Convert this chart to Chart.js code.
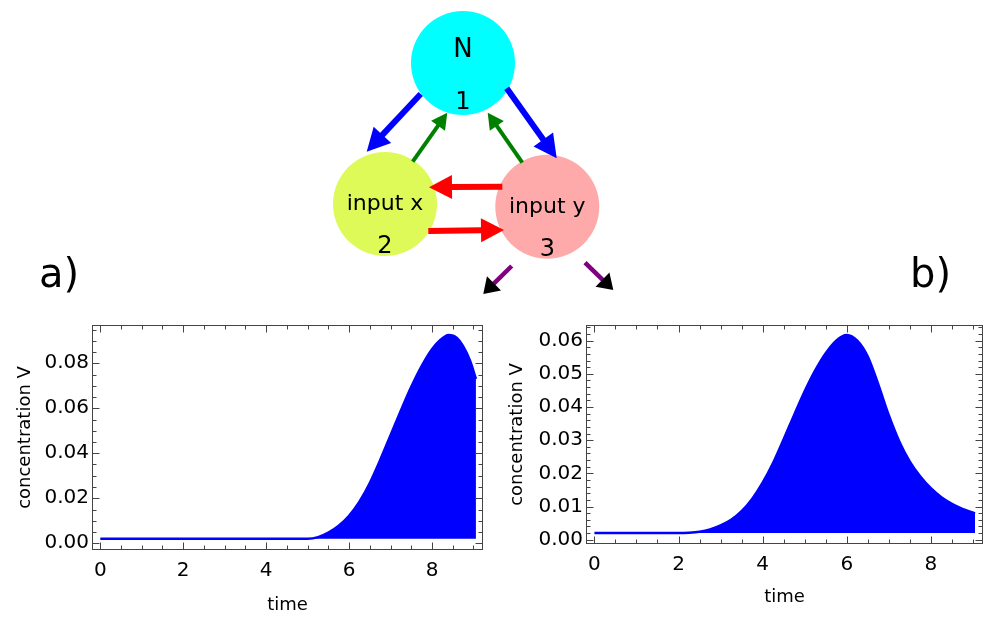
<!DOCTYPE html>
<html>
<head>
<meta charset="utf-8">
<title>Network and concentration V</title>
<script src="https://cdn.jsdelivr.net/npm/chart.js@4.4.0/dist/chart.umd.min.js"></script>
<style>
  html, body { margin: 0; padding: 0; background: #fff; }
  body { width: 986px; height: 617px; position: relative; overflow: hidden; font-family: "DejaVu Sans", sans-serif; }
  .box { position: absolute; }
  .box canvas { display: block; }
  .tag { position: absolute; font-size: 40px; line-height: 40px; color: #000; }
</style>
</head>
<body>
<div class="box" style="left:0;top:0;width:986px;height:310px"><canvas id="net" width="986" height="310"></canvas></div>
<div class="tag" style="left:39px;top:253px">a)</div>
<div class="tag" style="left:910px;top:253px">b)</div>
<div class="box" style="left:0;top:310px;width:500px;height:307px"><canvas id="chartA" width="500" height="307"></canvas></div>
<div class="box" style="left:490px;top:310px;width:496px;height:307px"><canvas id="chartB" width="496" height="307"></canvas></div>

<script>
// ---- data ----
// shared time ticks
const timeTicks = [0, 2, 4, 6, 8];

// panel a)
const timeA = [0, 1, 2, 3, 4, 4.5, 5, 5.25, 5.5, 5.75, 6, 6.25, 6.5, 6.75, 7, 7.25, 7.5, 7.75, 8, 8.2, 8.4, 8.6, 8.75, 8.92, 9.06];
const concA = [0.002, 0.002, 0.002, 0.002, 0.002, 0.002, 0.002, 0.0027, 0.0047, 0.0078, 0.0122, 0.0185, 0.0268, 0.037, 0.048, 0.059, 0.0695, 0.0787, 0.0862, 0.0903, 0.0925, 0.0912, 0.0876, 0.081, 0.073];
const baseA = 0.002;
const concTicksA = [0, 0.02, 0.04, 0.06, 0.08];

// panel b)
const timeB = [0, 1, 2, 2.25, 2.5, 2.75, 3, 3.25, 3.5, 3.75, 4, 4.25, 4.5, 4.75, 5, 5.25, 5.5, 5.75, 6, 6.25, 6.5, 6.75, 7, 7.25, 7.5, 7.75, 8, 8.25, 8.5, 8.75, 9.05];
const concB = [0.002, 0.002, 0.002, 0.0021, 0.0024, 0.0031, 0.0043, 0.006, 0.0086, 0.0123, 0.0172, 0.0232, 0.0303, 0.0376, 0.0447, 0.051, 0.0562, 0.06, 0.0617, 0.06, 0.0552, 0.0468, 0.0375, 0.0296, 0.0235, 0.019, 0.0155, 0.0128, 0.0108, 0.0093, 0.0079];
const baseB = 0.002;
const concTicksB = [0, 0.01, 0.02, 0.03, 0.04, 0.05, 0.06];

// network nodes (layout units)
const nodeNames = ['N', 'input x', 'input y'];
const nodeNums = ['1', '2', '3'];
const nodeX = [0, -0.78, 0.843];
const nodeY = [0, -1.41, -1.437];

// network arrows: tail -> tip (layout units)
const arrowKind = ['act', 'act', 'fb', 'fb', 'link', 'link', 'out', 'out'];
const arrowTailX = [-0.423, 0.437, -0.503, 0.593, 0.393, -0.347, 0.487, 1.22];
const arrowTailY = [-0.31, -0.253, -0.987, -0.997, -1.237, -1.68, -2.03, -1.997];
const arrowTipX = [-0.963, 0.937, -0.157, 0.247, -0.34, 0.41, 0.203, 1.503];
const arrowTipY = [-0.887, -0.953, -0.497, -0.497, -1.243, -1.67, -2.31, -2.27];

// ---- styles ----
const FONT = 'DejaVu Sans';
const nodeColors = ['#00FFFF', '#DDFA58', '#FFAAAA'];
const nodeNameSize = [26, 22, 22];
const nodeNameDy = [-6, 6, 6];
const nodeNumDy = [46, 49, 49];
const arrowStyle = {
    act:  { color: '#0000FF', head: '#0000FF', width: 6, len: 23, half: 12 },
    fb:   { color: '#008000', head: '#008000', width: 4, len: 16, half: 8.5 },
    link: { color: '#FF0000', head: '#FF0000', width: 6, len: 23, half: 12 },
    out:  { color: '#800080', head: '#000000', width: 4.5, len: 15, half: 10 }
};

function drawArrow(ctx, x0, y0, x1, y1, s) {
    const dx = x1 - x0, dy = y1 - y0;
    const d = Math.hypot(dx, dy);
    const ux = dx / d, uy = dy / d;
    const bx = x1 - ux * s.len, by = y1 - uy * s.len;
    ctx.strokeStyle = s.color;
    ctx.lineWidth = s.width;
    ctx.lineCap = 'butt';
    ctx.beginPath();
    ctx.moveTo(x0, y0);
    ctx.lineTo(bx + ux, by + uy);
    ctx.stroke();
    ctx.fillStyle = s.head;
    ctx.beginPath();
    ctx.moveTo(x1, y1);
    ctx.lineTo(bx - uy * s.half, by + ux * s.half);
    ctx.lineTo(bx + uy * s.half, by - ux * s.half);
    ctx.closePath();
    ctx.fill();
}

const netPlugin = {
    id: 'net',
    afterDatasetsDraw(chart) {
        const { ctx, scales: { x, y } } = chart;
        ctx.save();
        arrowKind.forEach((k, i) => {
            drawArrow(ctx,
                x.getPixelForValue(arrowTailX[i]), y.getPixelForValue(arrowTailY[i]),
                x.getPixelForValue(arrowTipX[i]), y.getPixelForValue(arrowTipY[i]),
                arrowStyle[k]);
        });
        ctx.fillStyle = '#000';
        ctx.textAlign = 'center';
        ctx.textBaseline = 'alphabetic';
        nodeNames.forEach((name, i) => {
            const cx = x.getPixelForValue(nodeX[i]);
            const cy = y.getPixelForValue(nodeY[i]);
            ctx.font = nodeNameSize[i] + 'px "' + FONT + '"';
            ctx.fillText(name, cx, cy + nodeNameDy[i]);
            ctx.font = '24px "' + FONT + '"';
            ctx.fillText(nodeNums[i], cx, cy + nodeNumDy[i]);
        });
        ctx.restore();
    }
};

new Chart(document.getElementById('net'), {
    type: 'scatter',
    data: {
        datasets: [{
            data: nodeX.map((v, i) => ({ x: v, y: nodeY[i] })),
            pointRadius: 52,
            pointHoverRadius: 52,
            backgroundColor: nodeColors,
            borderWidth: 0,
            clip: false
        }]
    },
    options: {
        responsive: false,
        animation: false,
        events: [],
        layout: { padding: 0, autoPadding: false },
        plugins: { legend: { display: false }, tooltip: { enabled: false } },
        scales: {
            x: { type: 'linear', display: false, min: -4.63, max: 5.23 },
            y: { type: 'linear', display: false, min: -2.47, max: 0.63 }
        }
    },
    plugins: [netPlugin]
});

// frame with inward major/minor ticks on all four sides
const framePlugin = {
    id: 'frame',
    afterDraw(chart, args, opts) {
        const { ctx, chartArea: a, scales: { x, y } } = chart;
        const L = Math.round(a.left) + 0.5, R = Math.round(a.right) - 0.5;
        const T = Math.round(a.top) + 0.5, B = Math.round(a.bottom) - 0.5;
        ctx.save();
        ctx.strokeStyle = '#444';
        ctx.lineWidth = 1;
        ctx.strokeRect(L, T, R - L, B - T);
        ctx.beginPath();
        const isMajor = (v, step) => Math.abs(v / step - Math.round(v / step)) < 1e-6;
        for (let k = Math.ceil(x.min / opts.minorX); k * opts.minorX <= x.max + 1e-9; k++) {
            const v = k * opts.minorX;
            const len = isMajor(v, opts.majorX) ? 7 : 4;
            const px = Math.round(x.getPixelForValue(v)) + 0.5;
            ctx.moveTo(px, B); ctx.lineTo(px, B - len);
            ctx.moveTo(px, T); ctx.lineTo(px, T + len);
        }
        for (let k = Math.ceil(y.min / opts.minorY - 1e-6); k * opts.minorY <= y.max + 1e-9; k++) {
            const v = k * opts.minorY;
            const len = isMajor(v, opts.majorY) ? 7 : 4;
            const py = Math.round(y.getPixelForValue(v)) + 0.5;
            ctx.moveTo(L, py); ctx.lineTo(L + len, py);
            ctx.moveTo(R, py); ctx.lineTo(R - len, py);
        }
        ctx.stroke();
        ctx.restore();
    }
};

function makePanel(id, time, conc, base, yTicks, cfg) {
    return new Chart(document.getElementById(id), {
        type: 'line',
        data: {
            datasets: [{
                data: time.map((t, i) => ({ x: t, y: conc[i] })),
                borderColor: '#0000FF',
                backgroundColor: '#0000FF',
                borderWidth: 2.5,
                pointRadius: 0,
                cubicInterpolationMode: 'monotone',
                fill: { value: base }
            }]
        },
        options: {
            responsive: false,
            animation: false,
            events: [],
            layout: { padding: cfg.padding, autoPadding: false },
            plugins: {
                legend: { display: false },
                tooltip: { enabled: false },
                frame: cfg.frame
            },
            scales: {
                x: {
                    type: 'linear',
                    min: cfg.xMin, max: cfg.xMax,
                    afterBuildTicks: s => { s.ticks = timeTicks.map(v => ({ value: v })); },
                    afterFit: s => { s.height = cfg.xHeight; },
                    grid: { display: false, drawTicks: false },
                    border: { display: false },
                    ticks: { color: '#000', padding: 9, maxRotation: 0, font: { family: FONT, size: 20 }, callback: v => String(v) },
                    title: { display: true, text: 'time', color: '#000', font: { family: FONT, size: 18 }, padding: { top: 0, bottom: cfg.xTitlePad } }
                },
                y: {
                    type: 'linear',
                    min: cfg.yMin, max: cfg.yMax,
                    afterBuildTicks: s => { s.ticks = yTicks.map(v => ({ value: v })); },
                    afterFit: s => { s.width = cfg.yWidth; },
                    grid: { display: false, drawTicks: false },
                    border: { display: false },
                    ticks: { color: '#000', padding: 3, font: { family: FONT, size: 20 }, callback: v => Number(v).toFixed(2) },
                    title: { display: true, text: 'concentration V', color: '#000', font: { family: FONT, size: 18 }, padding: { top: cfg.yTitlePad, bottom: 0 } }
                }
            }
        },
        plugins: [framePlugin]
    });
}

makePanel('chartA', timeA, concA, baseA, concTicksA, {
    padding: { top: 14, right: 17, bottom: 0, left: 0 },
    xMin: -0.2, xMax: 9.23, yMin: -0.003, yMax: 0.097,
    xHeight: 67, yWidth: 92, xTitlePad: 1, yTitlePad: 15,
    frame: { minorX: 0.5, majorX: 2, minorY: 0.005, majorY: 0.02 }
});

makePanel('chartB', timeB, concB, baseB, concTicksB, {
    padding: { top: 15, right: 3, bottom: 0, left: 0 },
    xMin: -0.2, xMax: 9.24, yMin: -0.0013, yMax: 0.0647,
    xHeight: 73, yWidth: 96, xTitlePad: 9, yTitlePad: 17,
    frame: { minorX: 0.5, majorX: 2, minorY: 0.002, majorY: 0.01 }
});
</script>
</body>
</html>
